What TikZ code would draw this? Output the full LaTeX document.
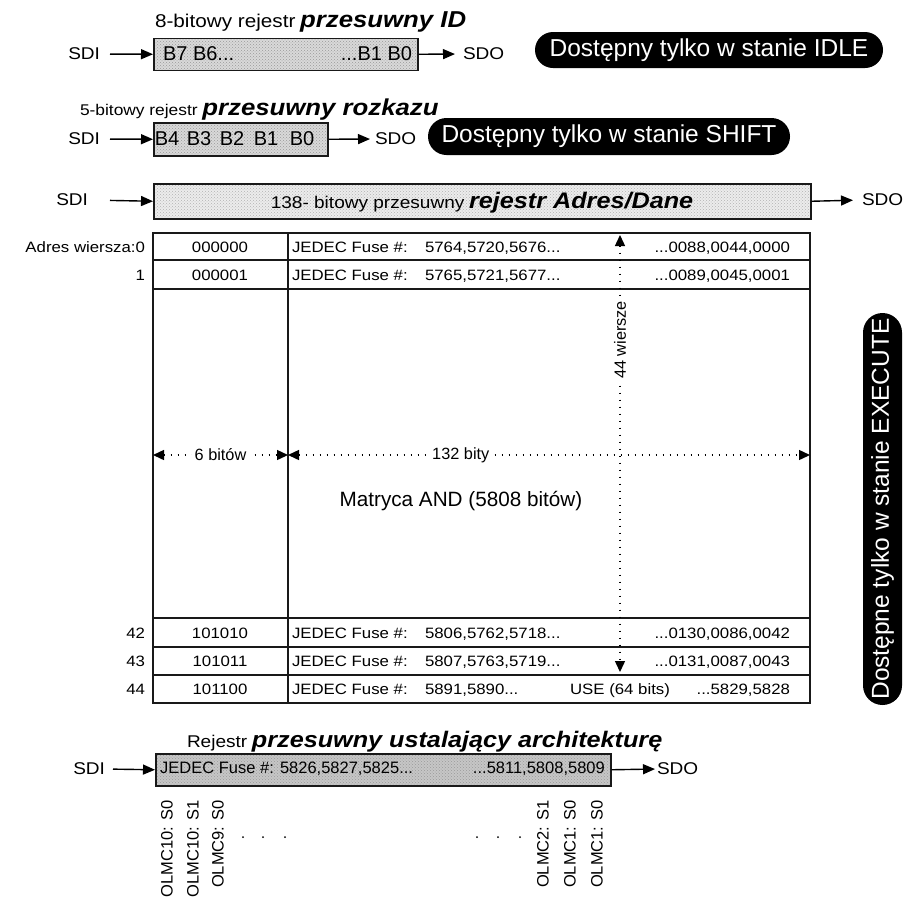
\documentclass[tikz,border=0pt]{standalone}
\usepackage{fontspec}
\setmainfont{Liberation Sans}[FakeStretch=1.12]
\newfontfamily\pf{Liberation Sans}
\usetikzlibrary{arrows.meta,patterns}
\newcommand\fsz[1]{\fontsize{#1}{#1}\selectfont}
\newcommand\bix[1][23]{\bfseries\itshape\fsz{#1}}
\begin{document}
\begin{tikzpicture}[x=1pt,y=-1pt,
  tx/.style={inner sep=0pt, outer sep=0pt, font=\fsz{15}},
  lab/.style={inner sep=0pt, outer sep=0pt, font=\fsz{17}},
  inreg/.style={inner sep=0pt, outer sep=0pt, font=\pf\fsz{20}},
  reg/.style={draw=black!90, line width=1.5pt, inner sep=0pt, anchor=north west, pattern=crosshatch dots, pattern color=gray!80},
  arr/.style={-{Triangle[length=12pt,width=10pt]}, line width=1.4pt},
  pill/.style={fill=black, text=white, inner sep=0pt, font=\pf\fsz{24.5}},
  dimln/.style={{Triangle[length=11pt,width=10pt]}-{Triangle[length=11pt,width=10pt]}, line width=1.4pt, dash pattern=on 1.5pt off 5.5pt},
  dimlab/.style={fill=white, inner sep=3pt, font=\pf\fsz{16.3}},
  tab/.style={line width=1.3pt, draw=black!90},
  olmc/.style={rotate=90, anchor=east, inner sep=0pt, font=\pf\fsz{16.5}},
]
\useasboundingbox (0,0) rectangle (918,898);

% ---------- 8-bit ID register ----------
\node[tx, anchor=base west] (title1) at (155,27) {{\fsz{18.5}8-bitowy rejestr} {\bix przesuwny ID}};
\node[reg, preaction={fill=gray!30}, minimum width=264pt, minimum height=32pt] (idreg) at (153,37.5) {};
\node[inreg, anchor=west] (idl) at (163,54) {B7 B6...};
\node[inreg, anchor=east] (idr) at (412,54) {...B1 B0};
\node[lab, anchor=east] (sdi1) at (100,54) {SDI};
\node[lab, anchor=west] (sdo1) at (463,54) {SDO};
\draw[arr, shorten <=10pt] (sdi1.east) -- (idreg.west);
\draw[arr, shorten >=8pt] (idreg.east) -- (sdo1.west);
\node[pill, minimum width=348pt, minimum height=36pt, rounded corners=18pt] (idle) at (709,50) {Dostępny tylko w stanie IDLE};

% ---------- 5-bit instruction register ----------
\node[tx, anchor=base west] (title2) at (80,115) {{\fsz{15.5}5-bitowy rejestr} {\bix przesuwny rozkazu}};
\node[reg, preaction={fill=gray!30}, minimum width=174pt, minimum height=33pt] (cmdreg) at (153,122) {};
\node[inreg] (b4) at (167,139) {B4};
\node[inreg] (b3) at (199,139) {B3};
\node[inreg] (b2) at (232,139) {B2};
\node[inreg] (b1) at (266,139) {B1};
\node[inreg] (b0) at (302,139) {B0};
\node[lab, anchor=east] (sdi2) at (100,139) {SDI};
\node[lab, anchor=west] (sdo2) at (375,139) {SDO};
\draw[arr, shorten <=10pt] (sdi2.east) -- (cmdreg.west);
\draw[arr, shorten >=5pt] (cmdreg.east) -- (sdo2.west);
\node[pill, minimum width=362pt, minimum height=37pt, rounded corners=18.5pt] (shift) at (609,136.5) {Dostępny tylko w stanie SHIFT};

% ---------- 138-bit address/data register ----------
\node[reg, preaction={fill=gray!15}, pattern color=gray!60, minimum width=657pt, minimum height=35pt] (adreg) at (153,183) {};
\node[tx, anchor=base] (adtext) at (482,208) {{\fsz{17}138- bitowy przesuwny} {\bix[22.5]rejestr Adres/Dane}};
\node[lab, anchor=east] (sdi3) at (88,200) {SDI};
\node[lab, anchor=west] (sdo3) at (862,200) {SDO};
\draw[arr, shorten <=22pt] (sdi3.east) -- (adreg.west);
\draw[arr, shorten >=9pt] (adreg.east) -- (sdo3.west);

% ---------- AND matrix table ----------
\coordinate (tl) at (153,233);
\coordinate (br) at (810,703);
\draw[tab] (tl) rectangle (br);
\draw[tab] (288,233) -- (288,703);
\foreach \yy in {260,289,618,647,675} \draw[tab] (153,\yy) -- (810,\yy);

\foreach \nm/\yb/\lbl/\adr/\mid/\rgt in {
  r0/252/{Adres wiersza:0}/000000/{5764,5720,5676...}/{...0088,0044,0000},
  r1/280/1/000001/{5765,5721,5677...}/{...0089,0045,0001},
  r42/638/42/101010/{5806,5762,5718...}/{...0130,0086,0042},
  r43/666.5/43/101011/{5807,5763,5719...}/{...0131,0087,0043},
  r44/694.5/44/101100/{5891,5890...}/{...5829,5828}}{
  \node[tx, anchor=base east] (\nm lbl) at (145,\yb) {\lbl};
  \node[tx, anchor=base] (\nm adr) at (220,\yb) {\adr};
  \node[tx, anchor=base west] (\nm jed) at (292,\yb) {JEDEC Fuse \#:};
  \node[tx, anchor=base west] (\nm mid) at (425,\yb) {\mid};
  \node[tx, anchor=base east] (\nm rgt) at (790,\yb) {\rgt};
}
\node[tx, anchor=base] (use) at (620,694.5) {USE (64 bits)};

% dimension lines
\draw[dimln] (153,455) -- node[dimlab] (d6) {6 bitów} (288,455);
\draw[dimln] (288,455) -- node[dimlab, pos=0.331] (d132) {132 bity} (810,455);
\draw[dimln] (620,235) -- node[dimlab, pos=0.24, rotate=90] (d44) {44 wiersze} (620,672);
\node[inner sep=0pt, font=\pf\fsz{20.7}] (matrix) at (461,501) {Matryca AND (5808 bitów)};

% EXECUTE pill
\node[pill, rotate=90, minimum width=392pt, minimum height=39pt, rounded corners=19.5pt] (exec) at (882.5,509) {Dostępne tylko w stanie EXECUTE};

% ---------- architecture register ----------
\node[tx, anchor=base west] (title3) at (187,747) {{\fsz{17}Rejestr} {\bix[22.5]przesuwny ustalający architekturę}};
\node[reg, preaction={fill=gray!45}, minimum width=455pt, minimum height=32pt] (archreg) at (155,753) {};
\node[inner sep=0pt, font=\pf\fsz{16.5}, anchor=west] (archl) at (160,769) {JEDEC Fuse \#: 5826,5827,5825...};
\node[inner sep=0pt, font=\pf\fsz{16.5}, anchor=east] (archr) at (605,769) {...5811,5808,5809};
\node[lab, anchor=east] (sdi4) at (105,769) {SDI};
\node[lab, anchor=west] (sdo4) at (657,769) {SDO};
\draw[arr, shorten <=8pt] (sdi4.east) -- (archreg.west);
\draw[arr, shorten >=2pt] (archreg.east) -- (sdo4.west);

\node[olmc] (o1) at (167,800) {OLMC10: S0};
\node[olmc] (o2) at (193,800) {OLMC10: S1};
\node[olmc] (o3) at (218,800) {OLMC9: S0};
\node[olmc] (o4) at (543,800) {OLMC2: S1};
\node[olmc] (o5) at (570,800) {OLMC1: S0};
\node[olmc] (o6) at (597,800) {OLMC1: S0};
\foreach \xx in {243,263,285,477,498,520} \fill (\xx,837) circle (1pt);
\end{tikzpicture}
\end{document}
